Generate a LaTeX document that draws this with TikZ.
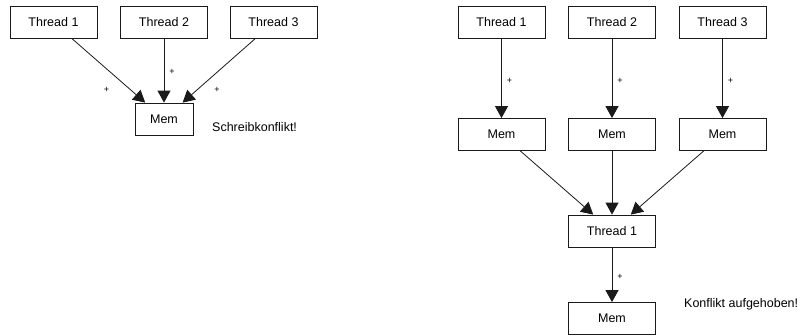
\documentclass[tikz,border=0pt]{standalone}
\usepackage{fontspec}
\setmainfont{Liberation Sans}
\usetikzlibrary{arrows.meta,positioning}
\definecolor{thrLine}{HTML}{1A1A1A}
\tikzset{
  % Thread and memory boxes: plain rectangles.
  thr/box/.style={
    draw=thrLine, fill=white, line width=0.8pt, inner sep=2pt,
    minimum width=87pt, minimum height=32pt, font=\fontsize{12.5}{14}\selectfont
  },
  thr/mem/.style={thr/box, minimum width=58pt},
  % Write access, big filled head.
  thr/arrow/.style={
    -{Triangle[length=12pt,width=13pt]}, line width=0.8pt, draw=thrLine
  },
  % The small increment mark on an arrow.
  thr/plus/.style={font=\fontsize{9}{10}\selectfont, inner sep=1pt},
  thr/note/.style={font=\fontsize{12.5}{14}\selectfont, anchor=west, inner sep=0pt},
}
\begin{document}
\begin{tikzpicture}[x=1pt,y=-1pt]
  \useasboundingbox (0,0) rectangle (800,335);
  % (left) three threads write into one cell
  \node[thr/box] (a1) at (53.5,22.5) {Thread 1};
  \node[thr/box] (a2) at (164,22.5)  {Thread 2};
  \node[thr/box] (a3) at (273.5,22.5) {Thread 3};
  \node[thr/mem] (am) at (164,119)   {Mem};
  \draw[thr/arrow] (a1) -- node[thr/plus, pos=0.8, left=20pt] {+} (am);
  \draw[thr/arrow] (a2) -- node[thr/plus, pos=0.52, right=4pt] {+} (am);
  \draw[thr/arrow] (a3) -- node[thr/plus, pos=0.8, right=16pt] {+} (am);
  \node[thr/note] (an) at (212,127) {Schreibkonflikt!};
  % (right) every thread gets its own cell
  \node[thr/box] (b1) at (501.5,22.5) {Thread 1};
  \node[thr/box] (b2) at (612,22.5)   {Thread 2};
  \node[thr/box] (b3) at (722.5,22.5) {Thread 3};
  \node[thr/box] (m1) at (501.5,134.5) {Mem};
  \node[thr/box] (m2) at (612,134.5)   {Mem};
  \node[thr/box] (m3) at (722.5,134.5) {Mem};
  \foreach \t/\m in {b1/m1,b2/m2,b3/m3}{
    \draw[thr/arrow] (\t) -- node[thr/plus, pos=0.525, right=4pt] {+} (\m);}
  \node[thr/box] (rt) at (612,231)   {Thread 1};
  \node[thr/box] (rm) at (612,318.5) {Mem};
  \foreach \m in {m1,m2,m3}{\draw[thr/arrow] (\m) -- (rt);}
  \draw[thr/arrow] (rt) -- node[thr/plus, pos=0.54, right=4pt] {+} (rm);
  \node[thr/note] (bn) at (684,304) {Konflikt aufgehoben!};
\end{tikzpicture}
\end{document}
